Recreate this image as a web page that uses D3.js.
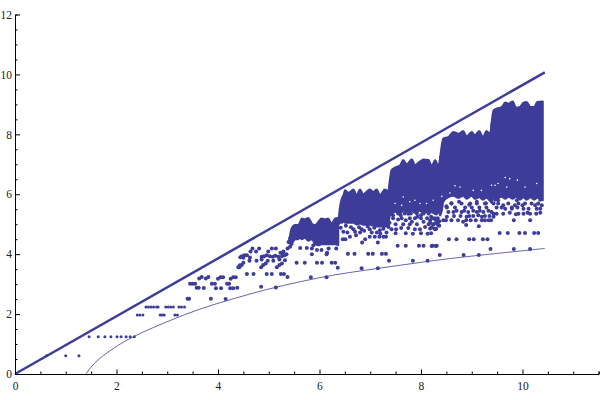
<!DOCTYPE html>
<html>
<head>
<meta charset="utf-8">
<script src="https://cdnjs.cloudflare.com/ajax/libs/d3/7.8.5/d3.min.js"></script>
<style>
html,body{margin:0;padding:0;background:#fff;}
svg{display:block;}
.tick text{font-family:"Liberation Serif",serif;font-size:11.5px;fill:#222;}
</style>
</head>
<body>
<svg id="chart" width="600" height="400"></svg>
<script>
const xMajorTicks=[0,2,4,6,8,10];
const xMinorTicks=[0.5,1,1.5,2.5,3,3.5,4.5,5,5.5,6.5,7,7.5,8.5,9,9.5,10.5,11,11.5];
const yMajorTicks=[0,2,4,6,8,10,12];
const yMinorTicks=[0.5,1,1.5,2.5,3,3.5,4.5,5,5.5,6.5,7,7.5,8.5,9,9.5,10.5,11,11.5];

const upperLine=[[0,0],[10.44,10.07]];
const lowerCurve=[[1.40,0],[1.48,0.19],[1.67,0.52],[2.0,0.92],[2.33,1.24],[2.99,1.74],[3.65,2.17],[4.30,2.51],[4.96,2.82],[5.62,3.08],[6.27,3.3],[6.93,3.47],[7.59,3.63],[8.51,3.84],[9.81,4.08],[10.44,4.19]];

// dense masses: x, top, bottom
const massB=[[5.41,4.52,4.36],[5.45,4.86,4.36],[5.52,4.97,4.5],[5.58,4.97,4.5],[5.62,5.08,4.55],[5.65,5.19,4.5],[5.71,5.16,4.55],[5.78,5.21,4.45],[5.85,5.02,4.5],[5.91,4.97,4.35],[5.98,5.08,4.30],[6.04,5.19,4.33],[6.11,5.16,4.33],[6.17,5.19,4.33],[6.24,5.02,4.33],[6.31,5.19,4.33],[6.37,5.21,4.30]];
const massC=[[6.38,5.19,5.0],[6.40,5.52,5.05],[6.44,5.86,5.05],[6.48,6.0,5.1],[6.50,6.13,5.05],[6.57,6.05,5.05],[6.67,6.16,5.05],[6.73,5.97,5.0],[6.80,6.16,5.02],[6.86,6.0,4.98],[6.99,6.16,4.98],[7.06,6.08,4.95],[7.13,6.16,4.92],[7.19,5.97,4.92],[7.29,6.16,4.92],[7.36,6.08,4.95]];
const massD=[[7.36,6.08,5.0],[7.39,6.52,5.3],[7.42,6.80,5.35],[7.49,6.89,5.42],[7.59,6.97,5.35],[7.65,7.14,5.45],[7.72,7.0,5.42],[7.82,7.17,5.45],[7.88,6.97,5.38],[7.97,7.08,5.45],[8.05,7.16,5.38],[8.15,7.14,5.42],[8.21,6.94,5.4],[8.28,7.14,5.35],[8.34,6.94,5.4],[8.38,7.25,5.3]];
const massE=[[8.38,7.25,5.3],[8.41,7.64,5.45],[8.44,7.86,5.75],[8.54,7.91,5.9],[8.64,8.08,5.95],[8.74,8.02,5.88],[8.83,8.11,5.95],[8.90,7.93,5.85],[9.00,8.08,5.95],[9.06,7.97,5.85],[9.15,8.11,5.9],[9.22,7.91,5.82],[9.29,8.11,5.88],[9.36,8.02,5.78],[9.39,8.36,5.72]];
const massF=[[9.39,8.36,5.72],[9.43,8.80,5.9],[9.49,8.86,5.85],[9.59,8.91,5.92],[9.66,9.06,5.85],[9.72,9.02,5.92],[9.81,9.10,5.85],[9.87,8.89,5.92],[9.95,8.91,5.82],[10.02,9.06,5.9],[10.08,9.08,5.82],[10.16,8.91,5.9],[10.23,8.91,5.82],[10.29,9.08,5.88],[10.40,9.10,5.8]];

const earlyPoints=[[0.62,0.61],[1.0,0.61],[1.26,0.61],[1.46,1.24],[1.64,1.24],[1.77,1.24],[1.89,1.24],[2.01,1.24],[2.09,1.24],[2.19,1.24],[2.27,1.24],[2.35,1.24],[2.41,1.97],[2.46,1.97],[2.52,1.97],[2.58,2.24],[2.63,2.24],[2.68,2.24],[2.73,2.24],[2.79,2.24],[2.82,2.24],[2.86,1.97],[2.90,1.97],[2.94,1.97],[2.97,2.24],[3.02,2.24],[3.07,2.24],[3.12,2.24],[3.15,1.97],[3.2,1.97],[3.23,2.24],[3.28,2.24],[3.34,2.24]];
const midPoints=[[3.40,2.51],[3.43,2.51],[3.45,3.01],[3.50,3.01],[3.55,3.01],[3.58,2.88],[3.62,2.88],[3.63,3.19],[3.68,3.24],[3.76,3.19],[3.81,3.24],[3.72,2.87],[3.86,2.51],[3.88,3.01],[3.94,3.01],[3.96,2.86],[4.00,3.18],[4.05,3.23],[4.10,3.23],[4.06,2.86],[4.15,2.5],[4.18,3.01],[4.22,3.01],[4.24,2.86],[4.25,3.18],[4.30,3.23],[4.35,3.23],[4.30,2.86],[4.38,2.88],[4.40,3.56],[4.43,3.63],[4.50,3.71],[4.57,3.34],[4.70,3.34],[4.96,3.34],[5.06,3.34],[5.24,3.34],[5.30,3.34],[4.85,2.91],[5.14,2.89],[5.37,3.24],[5.83,3.23],[6.14,3.23],[4.64,4.09],[4.68,4.19],[4.75,4.09],[4.81,4.19],[4.99,4.09],[5.06,4.19],[5.14,4.19],[5.29,4.09],[5.37,4.19],[5.42,4.25],[4.47,3.93],[4.52,3.96],[4.57,3.96],[4.63,3.89],[4.44,3.9],[4.50,3.88],[4.86,3.91],[4.91,3.93],[4.96,3.96],[5.08,3.91],[5.19,3.91],[5.26,3.93],[5.31,3.96],[5.35,4.0],[5.02,3.93],[5.13,3.95],[5.23,4.05],[5.28,3.98],[4.62,3.78],[4.76,3.78],[4.86,3.82],[4.98,3.78],[5.09,3.78],[5.21,3.82],[5.32,3.80],[4.42,3.56],[4.47,3.64],[4.85,3.56],[4.89,3.64],[4.94,3.69],[5.16,3.56],[5.21,3.64],[5.26,3.69],[5.39,4.41],[5.42,4.52],[5.45,4.34],[5.42,4.41],[5.62,4.21],[5.75,4.21],[5.85,4.19],[5.88,4.30],[5.95,4.14],[6.04,4.14],[6.18,4.19],[6.33,4.19],[6.15,4.05],[5.85,4.0],[6.14,4.0],[5.55,3.71],[5.71,3.71],[5.95,3.71],[6.05,3.71],[6.24,3.71],[6.31,3.71],[6.36,3.55],[6.83,3.53],[7.15,3.53]];
const highPoints=[[7.37,3.78],[7.84,3.78],[8.13,3.78],[6.56,4.01],[6.69,4.01],[6.96,4.01],[7.05,4.01],[7.23,4.01],[7.31,4.01],[7.54,4.28],[7.70,4.28],[7.96,4.28],[8.05,4.28],[8.23,4.28],[8.31,4.28],[6.84,4.39],[7.15,4.39],[7.84,4.68],[8.13,4.68],[6.46,4.5],[6.51,4.5],[6.60,4.58],[6.72,4.63],[6.80,4.72],[6.90,4.5],[6.99,4.58],[7.09,4.58],[7.18,4.58],[7.26,4.58],[7.31,4.58],[6.67,4.83],[6.83,4.83],[6.99,4.83],[7.19,4.8],[7.36,4.91],[7.42,4.83],[7.51,4.83],[7.61,4.87],[7.75,4.87],[7.88,4.83],[7.98,4.83],[8.08,4.91],[8.28,4.83],[7.70,5.13],[7.82,5.08],[7.93,5.25],[8.05,5.08],[8.18,5.13],[8.28,5.16],[7.55,5.16],[6.73,5.02],[6.86,5.08],[7.06,5.08],[7.22,5.08],[7.45,5.3],[7.6,5.3],[7.75,5.35],[8.0,5.3],[8.37,3.97],[8.84,3.97],[9.14,3.97],[9.37,4.17],[9.83,4.17],[10.15,4.17],[8.21,4.27],[8.29,4.27],[8.55,4.50],[8.70,4.50],[8.95,4.50],[9.04,4.50],[9.22,4.50],[9.31,4.50],[9.55,4.71],[9.71,4.71],[9.94,4.71],[10.05,4.71],[10.23,4.71],[10.31,4.71],[9.14,4.93],[9.83,5.13],[10.15,5.13],[8.89,4.97],[8.83,5.08],[8.44,5.13],[8.49,5.13],[8.60,5.13],[8.73,5.13],[8.89,5.13],[8.98,5.13],[9.08,5.13],[9.20,5.13],[9.26,5.13],[9.33,5.13],[9.38,5.13],[8.65,5.27],[8.78,5.27],[8.95,5.27],[9.03,5.27],[9.13,5.3],[9.26,5.27],[9.35,5.27],[8.70,5.45],[8.85,5.45],[9.03,5.45],[9.16,5.45],[9.33,5.45],[8.5,5.6],[8.6,5.7],[8.75,5.75],[8.95,5.65],[9.1,5.75],[9.28,5.7],[9.43,5.35],[9.49,5.35],[9.62,5.35],[9.75,5.38],[9.87,5.33],[9.92,5.35],[10.02,5.35],[10.10,5.38],[10.15,5.35],[10.27,5.35],[10.35,5.38],[9.66,5.52],[9.79,5.52],[10.02,5.52],[10.12,5.52],[10.28,5.52],[10.35,5.52],[9.72,5.69],[9.92,5.69],[10.05,5.69],[10.18,5.69],[10.31,5.69],[9.46,5.82],[9.52,5.8],[9.89,5.8],[10.35,5.82],[8.18,4.86],[8.26,4.86],[8.34,4.97],[8.32,5.13]];
const fillPoints=[[8.60,5.69],[8.80,5.69],[8.97,5.69],[9.10,5.69],[9.26,5.69],[9.43,5.69],[9.52,5.69],[8.51,5.56],[8.67,5.56],[8.87,5.56],[9.0,5.56],[9.15,5.56],[9.29,5.56],[9.49,5.56],[9.59,5.56],[9.79,5.56],[9.90,5.56],[8.54,5.41],[8.64,5.41],[8.80,5.41],[8.93,5.41],[9.10,5.41],[9.23,5.41],[9.39,5.41],[8.51,5.25],[8.90,5.25],[9.20,5.25],[9.43,5.25],[9.62,5.63],[9.85,5.63],[10.0,5.63],[10.25,5.63],[10.38,5.63],[8.2,5.25],[8.27,5.2],[8.18,5.05],[8.24,5.0],[8.3,5.05],[8.36,5.1],[8.21,4.9],[8.3,4.85],[8.36,4.95],[6.7,4.75],[6.78,4.9],[6.88,4.78],[6.95,4.92],[7.03,4.72],[7.08,4.88],[7.13,4.72],[7.2,4.68],[7.26,4.85],[7.32,4.72],[7.35,4.98],[7.38,5.05],[6.62,4.9],[6.52,4.95],[6.42,4.88],[6.47,4.75],[6.55,4.72],[7.42,5.36],[7.55,5.36],[7.68,5.36],[7.8,5.36],[7.92,5.36],[8.05,5.36],[8.15,5.36],[8.3,5.36],[7.45,5.2],[7.62,5.2],[7.78,5.2],[7.88,5.2],[8.0,5.2],[8.12,5.2],[8.22,5.2],[8.33,5.2],[7.5,5.0],[7.65,5.0],[7.78,5.0],[7.92,5.0],[8.15,5.0],[8.25,5.0],[8.33,5.0],[7.5,4.7],[7.7,4.7],[8.0,4.7],[8.2,4.7]];
// white specks left inside the mass
const massGaps=[[8.67,6.28],[8.77,6.24],[8.41,5.93],[8.57,6.04],[9.66,6.56],[9.75,6.52],[9.52,6.36],[9.90,6.47],[10.05,6.24],[9.69,6.24],[9.46,6.3],[10.28,6.36],[9.03,6.13],[9.19,6.13],[9.39,6.3],[7.65,5.91],[7.78,5.75],[7.49,5.69],[7.98,5.69],[8.24,5.8],[8.11,5.69],[7.62,5.63],[7.88,5.8]];

const color="#3d3d99";
const svg=d3.select("#chart");
const x=d3.scaleLinear().domain([0,11.5]).range([15,598.6]);
const y=d3.scaleLinear().domain([0,12]).range([374,14.5]);

const area=d3.area().x(d=>x(d[0])).y0(d=>y(d[2])).y1(d=>y(d[1])).curve(d3.curveMonotoneX);
svg.append("g").selectAll("path").data([massB,massC,massD,massE,massF]).join("path")
  .attr("d",area).attr("fill",color).attr("stroke",color).attr("stroke-width",2).attr("stroke-linejoin","round");

svg.append("g").selectAll("circle").data(earlyPoints).join("circle")
  .attr("cx",d=>x(d[0])).attr("cy",d=>y(d[1])).attr("r",1.5).attr("fill",color);
svg.append("g").selectAll("circle").data([...midPoints,...highPoints,...fillPoints]).join("circle")
  .attr("cx",d=>x(d[0])).attr("cy",d=>y(d[1])).attr("r",2).attr("fill",color);

svg.append("g").selectAll("circle").data(massGaps).join("circle")
  .attr("cx",d=>x(d[0])).attr("cy",d=>y(d[1])).attr("r",0.8).attr("fill","#fff");

const line=d3.line().x(d=>x(d[0])).y(d=>y(d[1]));
svg.append("path").datum(upperLine).attr("d",line).attr("fill","none").attr("stroke",color).attr("stroke-width",2.5);
svg.append("path").datum(lowerCurve).attr("d",line.curve(d3.curveCatmullRom)).attr("fill","none").attr("stroke",color).attr("stroke-width",0.8);

// axes
const gx=svg.append("g").attr("transform","translate(0,374)");
gx.call(d3.axisBottom(x).tickValues(xMinorTicks).tickSize(-2.5).tickFormat(""));
const gxM=svg.append("g").attr("transform","translate(0,374)");
gxM.call(d3.axisBottom(x).tickValues(xMajorTicks).tickSize(-4.5).tickPadding(6).tickSizeOuter(0));
gxM.selectAll(".tick text").attr("dy","0.9em");

const gy=svg.append("g").attr("transform","translate(15,0)");
gy.call(d3.axisLeft(y).tickValues(yMinorTicks).tickSize(-2.5).tickFormat(""));
const gyM=svg.append("g").attr("transform","translate(15,0)");
gyM.call(d3.axisLeft(y).tickValues(yMajorTicks).tickSize(-5).tickPadding(3).tickSizeOuter(0));
svg.selectAll(".tick line").attr("stroke","#000");
svg.selectAll(".domain").attr("stroke","#000");
</script>
</body>
</html>
